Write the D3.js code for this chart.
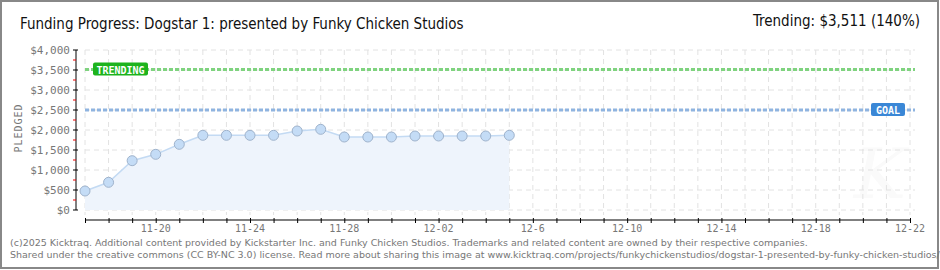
<!DOCTYPE html>
<html>
<head>
<meta charset="utf-8">
<script src="https://cdn.jsdelivr.net/npm/d3@7"></script>
<style>
  body { margin:0; background:#fff; }
  svg { display:block; }
</style>
</head>
<body>
<svg id="chart" width="940" height="270"></svg>
<script>
// pledged amount per day, 11-17 .. 12-05
var days = ["2025-11-17","2025-11-18","2025-11-19","2025-11-20","2025-11-21","2025-11-22","2025-11-23","2025-11-24","2025-11-25","2025-11-26","2025-11-27","2025-11-28","2025-11-29","2025-11-30","2025-12-01","2025-12-02","2025-12-03","2025-12-04","2025-12-05"];
var pledged = [475, 692, 1233, 1392, 1642, 1867, 1867, 1867, 1867, 1975, 2017, 1825, 1825, 1825, 1850, 1850, 1850, 1850, 1867];
var yTicks = [0, 500, 1000, 1500, 2000, 2500, 3000, 3500, 4000];
var xTickLabels = ["11-20","11-24","11-28","12-02","12-6","12-10","12-14","12-18","12-22"];
var goal = 2500;
var trending = 3511;
var title = "Funding Progress: Dogstar 1: presented by Funky Chicken Studios";
var trendText = "Trending:  $3,511 (140%)";
var footer = [
  "(c)2025 Kicktraq. Additional content provided by Kickstarter Inc. and Funky Chicken Studios. Trademarks and related content are owned by their respective companies.",
  "Shared under the creative commons (CC BY-NC 3.0) license. Read more about sharing this image at www.kicktraq.com/projects/funkychickenstudios/dogstar-1-presented-by-funky-chicken-studios/#sharing"
];

var parse = d3.timeParse("%Y-%m-%d");
var start = parse("2025-11-17"), end = parse("2025-12-22");
var svg = d3.select("#chart");
var pixFont = "'DejaVu Sans Mono', monospace";

// outer frame
svg.append("rect").attr("x",1).attr("y",1).attr("width",937).attr("height",267)
  .attr("fill","#fff").attr("stroke","#888").attr("stroke-width",2);

var x = d3.scaleTime().domain([start,end]).range([85,910]);
var y = d3.scaleLinear().domain([0,4000]).range([210,50]);

// faint watermark
svg.append("text").attr("x",880).attr("y",198).attr("text-anchor","middle")
  .style("font-family","DejaVu Serif").style("font-style","italic").style("font-size","70px")
  .attr("fill","#fafafa").text("K");

// grid
var allDays = d3.timeDay.range(start, d3.timeDay.offset(end,1));
svg.append("g").selectAll("line").data(allDays).join("line")
  .attr("x1",function(d){return x(d);}).attr("x2",function(d){return x(d);})
  .attr("y1",50).attr("y2",215)
  .attr("stroke","#e2e2e2").attr("stroke-dasharray","5,4");
svg.append("g").selectAll("line").data(yTicks).join("line")
  .attr("x1",85).attr("x2",915)
  .attr("y1",function(d){return y(d);}).attr("y2",function(d){return y(d);})
  .attr("stroke","#e2e2e2").attr("stroke-dasharray","5,4");

// area + line
var pts = days.map(function(d,i){return {date:parse(d), v:pledged[i]};});
svg.append("path").datum(pts)
  .attr("d", d3.area().x(function(d){return x(d.date);}).y0(y(0)).y1(function(d){return y(d.v);}))
  .attr("fill","#eef4fc");
svg.append("path").datum(pts)
  .attr("d", d3.line().x(function(d){return x(d.date);}).y(function(d){return y(d.v);}))
  .attr("fill","none").attr("stroke","#c3daf3").attr("stroke-width",1.5);

// goal & trending lines
function refLine(val, col, label, bg, lx, lw){
  svg.append("line").attr("x1",85).attr("x2",915)
    .attr("y1",y(val)).attr("y2",y(val))
    .attr("stroke",col).attr("stroke-width",3).attr("stroke-dasharray","4,2");
  svg.append("rect").attr("x",lx).attr("y",y(val)-7).attr("width",lw).attr("height",13)
    .attr("rx",2).attr("fill",bg);
  svg.append("text").attr("x",lx+lw/2).attr("y",y(val)+4).attr("text-anchor","middle")
    .style("font-family",pixFont).style("font-size","10px").style("font-weight","bold")
    .attr("fill","#fff").text(label);
}
refLine(trending, "#7fd37f", "TRENDING", "#1db31d", 93, 55);
refLine(goal, "#8fb4e0", "GOAL", "#3a87d6", 871, 34);

// points
svg.append("g").selectAll("circle").data(pts).join("circle")
  .attr("cx",function(d){return x(d.date);}).attr("cy",function(d){return y(d.v);})
  .attr("r",5).attr("fill","#c4dcf6").attr("stroke","#9fb3cc").attr("stroke-width",1);

// y axis
svg.append("line").attr("x1",76).attr("x2",76).attr("y1",50).attr("y2",210).attr("stroke","#000");
svg.append("g").selectAll("line").data(d3.range(250,4000,500)).join("line")
  .attr("x1",73).attr("x2",76).attr("y1",function(d){return y(d);}).attr("y2",function(d){return y(d);})
  .attr("stroke","#e00");
svg.append("g").selectAll("line").data(yTicks).join("line")
  .attr("x1",73).attr("x2",78).attr("y1",function(d){return y(d);}).attr("y2",function(d){return y(d);})
  .attr("stroke","#000");
svg.append("g").selectAll("text").data(yTicks).join("text")
  .attr("x",70).attr("y",function(d){return y(d)+4;}).attr("text-anchor","end")
  .style("font-family",pixFont).style("font-size","11px").attr("fill","#777")
  .text(function(d){return "$"+d3.format(",")(d);});
svg.append("text").attr("transform","translate(22,128) rotate(-90)").attr("text-anchor","middle")
  .style("font-family",pixFont).style("font-size","10px").style("letter-spacing","1px")
  .attr("fill","#777").text("PLEDGED");

// x axis
var xAxis = d3.axisBottom(x).tickValues(allDays).tickSize(5).tickFormat("");
var gx = svg.append("g").attr("transform","translate(0,220)").call(xAxis);
gx.select(".domain").attr("d","M85,0H910").attr("stroke","#000");
gx.selectAll(".tick line").attr("y1",-2).attr("y2",3).attr("stroke","#000");
var labelDays = xTickLabels.map(function(t,i){return d3.timeDay.offset(parse("2025-11-20"), i*4);});
svg.append("g").selectAll("text").data(labelDays).join("text")
  .attr("x",function(d){return x(d);}).attr("y",232).attr("text-anchor","middle")
  .style("font-family",pixFont).style("font-size","10px").attr("fill","#777")
  .text(function(d,i){return xTickLabels[i];});

// titles
svg.append("text").attr("x",20).attr("y",29)
  .style("font-family","'DejaVu Sans Condensed', sans-serif").style("font-size","15px").attr("fill","#111")
  .text(title);
svg.append("text").attr("x",920).attr("y",26).attr("text-anchor","end")
  .style("font-family","'DejaVu Sans Condensed', sans-serif").style("font-size","15px").attr("fill","#111")
  .text(trendText);

// footer (second line runs off the edge, as in the original)
svg.append("g").selectAll("text").data(footer).join("text")
  .attr("x",10).attr("y",function(d,i){return 246+i*12;})
  .style("font-family","Verdana, 'DejaVu Sans', sans-serif").style("font-size","9.5px").attr("fill","#777")
  .text(function(d){return d;});
</script>
</body>
</html>
